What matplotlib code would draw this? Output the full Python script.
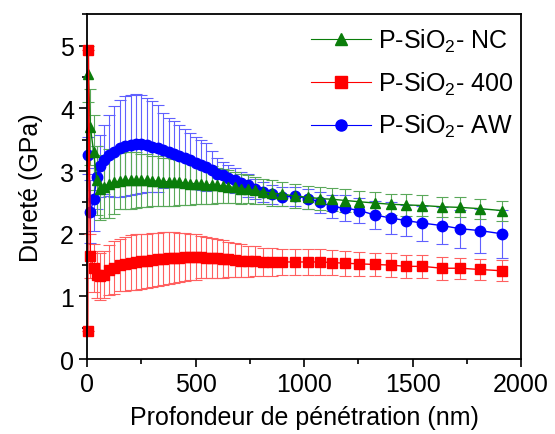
import matplotlib
matplotlib.use('Agg')
import matplotlib.pyplot as plt
from matplotlib.ticker import MultipleLocator

plt.rcParams['font.family'] = ['Liberation Sans', 'DejaVu Sans']
plt.rcParams['mathtext.fontset'] = 'custom'
plt.rcParams['mathtext.rm'] = 'Liberation Sans'

# penetration depth (nm)
depth = [5, 15, 30, 45, 60, 80, 100, 125, 150, 175, 200, 225, 250, 275, 300,
         325, 350, 375, 400, 425, 450, 475, 500, 525, 550, 575, 600, 625, 650,
         680, 710, 740, 775, 810, 850, 900, 960, 1020, 1075, 1130, 1190, 1255,
         1325, 1400, 1470, 1545, 1635, 1720, 1810, 1910]
depth_400 = [3, 6, 15, 30, 45, 60, 80, 100, 125, 150, 175, 200, 225, 250, 275,
             300, 325, 350, 375, 400, 425, 450, 475, 500, 525, 550, 575, 600,
             625, 650, 680, 710, 740, 775, 810, 850, 900, 960, 1020, 1075, 1130,
             1190, 1255, 1325, 1400, 1470, 1545, 1635, 1720, 1810, 1910]

# hardness (GPa)
h_nc = [4.55, 3.70, 3.30, 2.85, 2.72, 2.75, 2.80, 2.82, 2.84, 2.85, 2.85, 2.86,
        2.85, 2.85, 2.84, 2.84, 2.83, 2.83, 2.82, 2.82, 2.81, 2.80, 2.80, 2.79,
        2.78, 2.78, 2.77, 2.76, 2.75, 2.74, 2.72, 2.71, 2.69, 2.67, 2.65, 2.63,
        2.60, 2.58, 2.56, 2.55, 2.53, 2.51, 2.49, 2.47, 2.46, 2.45, 2.43, 2.42,
        2.40, 2.37]
err_nc = [0.45, 0.60, 0.60, 0.55, 0.50, 0.50, 0.55, 0.50, 0.45, 0.45, 0.45,
          0.45, 0.42, 0.42, 0.40, 0.40, 0.38, 0.38, 0.37, 0.36, 0.35, 0.34,
          0.33, 0.32, 0.30, 0.30, 0.28, 0.27, 0.26, 0.25, 0.24, 0.22, 0.21,
          0.20, 0.20, 0.19, 0.19, 0.18, 0.18, 0.18, 0.18, 0.17, 0.17, 0.17,
          0.17, 0.16, 0.16, 0.16, 0.16, 0.16]

h_400 = [0.45, 4.93, 1.65, 1.45, 1.35, 1.32, 1.35, 1.42, 1.46, 1.50, 1.52, 1.54,
         1.55, 1.56, 1.57, 1.58, 1.59, 1.60, 1.61, 1.62, 1.62, 1.63, 1.63, 1.63,
         1.63, 1.62, 1.62, 1.61, 1.60, 1.59, 1.58, 1.57, 1.56, 1.56, 1.55, 1.55,
         1.55, 1.55, 1.55, 1.55, 1.54, 1.53, 1.52, 1.51, 1.50, 1.48, 1.48, 1.45,
         1.45, 1.43, 1.41]
err_400 = [0.0, 0.0, 0.35, 0.38, 0.38, 0.37, 0.38, 0.40, 0.42, 0.42, 0.43,
           0.44, 0.44, 0.44, 0.43, 0.43, 0.42, 0.42, 0.41, 0.40, 0.39, 0.38,
           0.37, 0.36, 0.34, 0.33, 0.32, 0.31, 0.30, 0.28, 0.27, 0.26, 0.25,
           0.24, 0.23, 0.22, 0.21, 0.21, 0.21, 0.20, 0.20, 0.20, 0.19, 0.19,
           0.19, 0.18, 0.18, 0.18, 0.17, 0.17, 0.17]

h_aw = [3.25, 2.35, 2.55, 2.90, 3.08, 3.18, 3.25, 3.31, 3.36, 3.40, 3.42, 3.43,
        3.43, 3.41, 3.39, 3.36, 3.33, 3.30, 3.27, 3.24, 3.20, 3.17, 3.13, 3.10,
        3.06, 3.02, 2.96, 2.93, 2.89, 2.85, 2.81, 2.77, 2.72, 2.67, 2.63, 2.59,
        2.60, 2.56, 2.50, 2.43, 2.41, 2.37, 2.30, 2.25, 2.21, 2.17, 2.13, 2.08,
        2.05, 2.00]
err_aw = [0.30, 0.50, 0.50, 0.50, 0.50, 0.55, 0.65, 0.72, 0.78, 0.80, 0.80,
          0.80, 0.78, 0.75, 0.73, 0.70, 0.60, 0.55, 0.52, 0.50, 0.47, 0.44,
          0.42, 0.40, 0.38, 0.30, 0.25, 0.22, 0.20, 0.20, 0.18, 0.18, 0.16,
          0.16, 0.15, 0.15, 0.15, 0.16, 0.17, 0.18, 0.20, 0.20, 0.22, 0.25,
          0.25, 0.28, 0.30, 0.30, 0.35, 0.38]

fig = plt.figure(figsize=(5.55, 4.35), dpi=100)
ax = fig.add_axes([0.157, 0.172, 0.782, 0.793])

style = dict(lw=1.0, markersize=7.5, capsize=4, elinewidth=0.8, capthick=0.8,
             clip_on=False)

l_aw = ax.errorbar(depth, h_aw, yerr=err_aw, color='#0000ff', marker='o',
                   ecolor='#6060ff', **style)
l_nc = ax.errorbar(depth, h_nc, yerr=err_nc, color='#0a7d0a', marker='^',
                   ecolor='#5aa85a', **style)
l_400 = ax.errorbar(depth_400, h_400, yerr=err_400, color='#ff0000', marker='s',
                    ecolor='#ff6060', **style)

ax.set_xlim(0, 2000)
ax.set_ylim(0, 5.5)
ax.xaxis.set_major_locator(MultipleLocator(500))
ax.xaxis.set_minor_locator(MultipleLocator(250))
ax.yaxis.set_major_locator(MultipleLocator(1))
ax.yaxis.set_minor_locator(MultipleLocator(0.5))
ax.tick_params(which='both', direction='out', labelsize=18, width=1.2)
ax.tick_params(which='major', length=6)
ax.tick_params(which='minor', length=3.5)
for s in ax.spines.values():
    s.set_linewidth(1.3)

ax.set_xlabel('Profondeur de pénétration (nm)', fontsize=18, labelpad=6)
ax.set_ylabel('Dureté (GPa)', fontsize=18, labelpad=12)

handles = [l_nc.lines[0], l_400.lines[0], l_aw.lines[0]]
labels = ['P-SiO$_2$- NC', 'P-SiO$_2$- 400', 'P-SiO$_2$- AW']
leg = ax.legend(handles, labels, loc='upper right', bbox_to_anchor=(1.0, 0.985),
                frameon=False, fontsize=18, handlelength=2.4,
                handletextpad=0.3, labelspacing=0.62, borderaxespad=0.1,
                borderpad=0.2)
for h in leg.legend_handles:
    h.set_linewidth(0.8)
    h.set_markersize(8)

fig.savefig('out.png', dpi=100)
